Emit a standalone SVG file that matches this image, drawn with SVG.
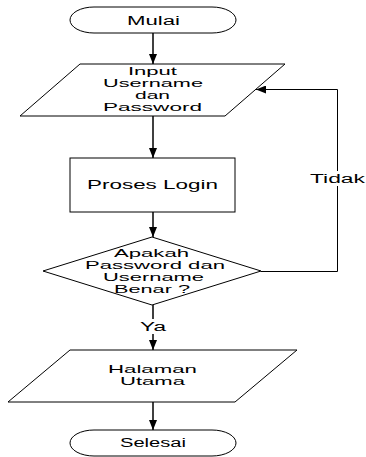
<svg xmlns="http://www.w3.org/2000/svg" width="366" height="457" viewBox="0 0 366 457">
<style>
.s{fill:#fff;stroke:#000;stroke-width:1}
.t{font-family:"Liberation Sans",Arial,sans-serif;font-size:12.5px;fill:#000}
.m{font-family:"Liberation Sans",Arial,sans-serif;font-size:10.4px;fill:#000}
.c{fill:none;stroke:#000;stroke-width:1.5}
.c2{fill:none;stroke:#000;stroke-width:1}
</style>
<defs>
<marker id="ah" viewBox="0 0 10 8" refX="10" refY="4" markerWidth="10" markerHeight="8" markerUnits="userSpaceOnUse" orient="auto">
<path d="M0,0 L10,4 L0,8 Z" fill="#000"/>
</marker>
</defs>
<rect width="366" height="457" fill="#fff"/>
<g id="connectors">
<line class="c" x1="153" y1="33" x2="153" y2="64" marker-end="url(#ah)"/>
<line class="c" x1="153" y1="116" x2="153" y2="158" marker-end="url(#ah)"/>
<line class="c" x1="153" y1="212" x2="153" y2="237" marker-end="url(#ah)"/>
<line class="c" x1="153" y1="305" x2="153" y2="350" marker-end="url(#ah)"/>
<line class="c" x1="153" y1="402" x2="153" y2="430" marker-end="url(#ah)"/>
<polyline class="c2" points="261,271.5 337.5,271.5 337.5,89.5 256,89.5" marker-end="url(#ah)"/>
<rect x="309" y="171" width="57" height="15" fill="#fff"/>
<text class="t" x="310" y="183" textLength="55" lengthAdjust="spacingAndGlyphs">Tidak</text>
<rect x="139" y="319" width="28" height="15" fill="#fff"/>
<text class="t" x="140" y="331" textLength="26" lengthAdjust="spacingAndGlyphs">Ya</text>
</g>
<g id="mulai">
<rect class="s" x="70" y="7" width="166" height="26" rx="24" ry="13"/>
<text class="t" x="127" y="25" textLength="53" lengthAdjust="spacingAndGlyphs">Mulai</text>
</g>
<g id="input">
<polygon class="s" points="80,64 285,64 225,116 20,116"/>
<text class="m" x="128" y="75" textLength="49" lengthAdjust="spacingAndGlyphs">Input</text>
<text class="m" x="103" y="87" textLength="100" lengthAdjust="spacingAndGlyphs">Username</text>
<text class="m" x="135" y="99" textLength="35" lengthAdjust="spacingAndGlyphs">dan</text>
<text class="m" x="103" y="111" textLength="99" lengthAdjust="spacingAndGlyphs">Password</text>
</g>
<g id="proses">
<rect class="s" x="70" y="158" width="165" height="54"/>
<text class="t" x="87" y="189" textLength="131" lengthAdjust="spacingAndGlyphs">Proses Login</text>
</g>
<g id="keputusan">
<polygon class="s" points="152,237 261,271 152,305 43,271"/>
<text class="m" x="114" y="257" textLength="75" lengthAdjust="spacingAndGlyphs">Apakah</text>
<text class="m" x="85" y="269" textLength="140" lengthAdjust="spacingAndGlyphs">Password dan</text>
<text class="m" x="103" y="281" textLength="101" lengthAdjust="spacingAndGlyphs">Username</text>
<text class="m" x="114" y="293" textLength="76" lengthAdjust="spacingAndGlyphs">Benar ?</text>
</g>
<g id="halaman">
<polygon class="s" points="70,350 297,350 235,402 8,402"/>
<text class="m" x="108" y="373" textLength="89" lengthAdjust="spacingAndGlyphs">Halaman</text>
<text class="m" x="120" y="385" textLength="65" lengthAdjust="spacingAndGlyphs">Utama</text>
</g>
<g id="selesai">
<rect class="s" x="70" y="430" width="166" height="26" rx="24" ry="13"/>
<text class="t" x="120" y="447" textLength="66" lengthAdjust="spacingAndGlyphs">Selesai</text>
</g>
</svg>
